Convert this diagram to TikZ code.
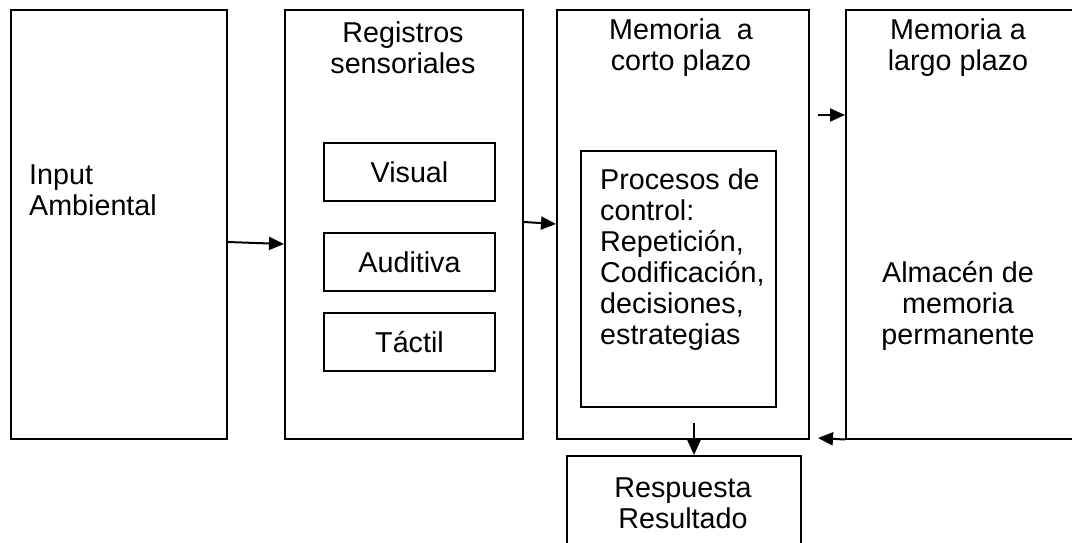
\documentclass[tikz,border=0pt]{standalone}
\usepackage{fontspec}
\setmainfont{Liberation Sans}
\usetikzlibrary{arrows.meta}
\begin{document}
\begin{tikzpicture}[x=1pt,y=-1pt,
  box/.style={draw,line width=2pt,inner sep=0pt,anchor=north west,rectangle},
  lbl/.style={inner sep=0pt,font=\fontsize{28.7}{31}\selectfont},
  arr/.style={line width=2pt,-{Triangle[length=15pt,width=13pt]}}]
\useasboundingbox[fill=white] (0,0) rectangle (1072,543);
\node[box,minimum width=216.5pt,minimum height=428pt] (b1) at (9.5,9.5) {};
\node[box,minimum width=238pt,minimum height=428pt] (b2) at (284,9.5) {};
\node[box,minimum width=252pt,minimum height=428pt] (b3) at (556,9.5) {};
\node[box,minimum width=260pt,minimum height=428pt] (b4) at (845,9.5) {};
\node[box,minimum width=171pt,minimum height=58pt] (vis) at (323,142) {};
\node[box,minimum width=171pt,minimum height=58pt] (aud) at (323,232) {};
\node[box,minimum width=171pt,minimum height=58pt] (tac) at (323,312) {};
\node[box,minimum width=195pt,minimum height=256pt] (pc) at (580,150) {};
\node[box,minimum width=234pt,minimum height=110pt] (resp) at (566,455) {};
% texts
\node[lbl,align=left,anchor=west] (t1) at (29,190) {Input\\Ambiental};
\node[lbl,align=center] (t2) at (403,48) {Registros\\sensoriales};
\node[lbl,align=center] (t3) at (681,48) {Memoria\ \ a\\corto plazo};
\node[lbl,align=center] (t4) at (958,48) {Memoria a\\largo plazo};
\node[lbl,align=center] (t5) at (958,306) {Almacén de\\memoria\\permanente};
\node[lbl] (tv) at (vis.center) {Visual};
\node[lbl] (ta) at (aud.center) {Auditiva};
\node[lbl] (tt) at (tac.center) {Táctil};
\node[lbl,align=left,anchor=north west] (tp) at (600,169) {Procesos de\\control:\\Repetición,\\Codificación,\\decisiones,\\estrategias};
\node[lbl,align=center] (tr) at (683,503) {Respuesta\\Resultado};
% connectors
\coordinate (c3) at (818,115);
\coordinate (c4) at (818,438);
\coordinate (c5) at (694,423);
\draw[arr] (b1.north east |- 0,242) -- (b2.north west |- 0,244);
\draw[arr] (b2.north east |- 0,222) -- (b3.north west |- 0,224);
\draw[arr] (c3) -- (b4.north west |- c3);
\draw[arr] (b4.south west) -- (c4);
\draw[arr] (c5) -- (c5 |- resp.north);
\end{tikzpicture}
\end{document}
